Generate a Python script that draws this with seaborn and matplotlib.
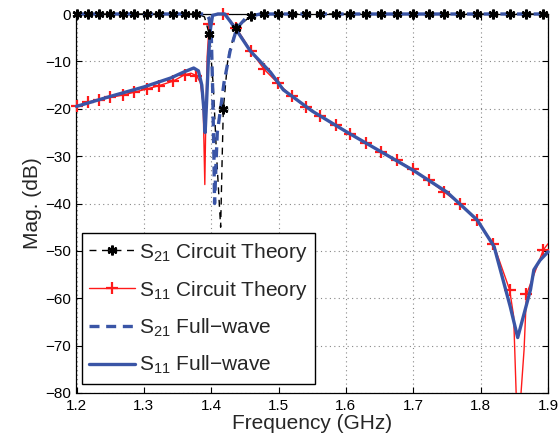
import matplotlib
matplotlib.use("Agg")
import matplotlib.pyplot as plt
from matplotlib.lines import Line2D
import seaborn as sns

# grille des marqueurs (théorie des circuits)
f_mk = [1.200, 1.217, 1.233, 1.250, 1.269, 1.286, 1.305, 1.323, 1.343, 1.361,
        1.378, 1.397, 1.418, 1.437, 1.459, 1.478, 1.499, 1.520, 1.541, 1.562,
        1.585, 1.606, 1.630, 1.652, 1.676, 1.699, 1.723, 1.745, 1.769, 1.794,
        1.819, 1.843, 1.868, 1.893]
s21_mk = [0.0, 0.0, 0.0, 0.0, 0.0, 0.0, 0.0, 0.0, 0.0, 0.0,
          0.0, -4.2, -20.0, -3.0, -0.4, 0.0, 0.0, 0.0, 0.0, 0.0,
          0.0, 0.0, 0.0, 0.0, 0.0, 0.0, 0.0, 0.0, 0.0, 0.0,
          0.0, 0.0, 0.0, 0.0]
s11_mk = [-19.5, -18.6, -18.1, -17.6, -17.1, -16.5, -15.8, -15.1, -14.2, -12.8,
          -13.0, -2.1, 0.0, -2.9, -7.8, -11.6, -14.6, -17.4, -19.7, -21.6,
          -23.5, -25.3, -27.2, -29.1, -30.9, -32.8, -35.1, -37.5, -40.0, -43.5,
          -48.5, -58.2, -59.2, -49.8]

# S21 théorie des circuits (trait)
f_s21_ct = [1.200, 1.380, 1.390, 1.397, 1.403, 1.408, 1.414, 1.416, 1.418,
            1.425, 1.437, 1.459, 1.480, 1.900]
s21_ct = [0.0, 0.0, -0.6, -4.2, -15.0, -30.0, -45.0, -32.0, -20.0,
          -9.0, -3.0, -0.4, 0.0, 0.0]

# S11 théorie des circuits (trait)
f_s11_ct = [1.200, 1.217, 1.233, 1.250, 1.269, 1.286, 1.305, 1.323, 1.343,
            1.361, 1.370, 1.378, 1.384, 1.388, 1.3905, 1.392, 1.394, 1.397,
            1.402, 1.410, 1.418, 1.428, 1.437, 1.459, 1.478, 1.499, 1.520,
            1.541, 1.562, 1.585, 1.606, 1.630, 1.652, 1.676, 1.699, 1.723,
            1.745, 1.769, 1.794, 1.819, 1.843, 1.849, 1.855, 1.8645, 1.868,
            1.893, 1.900]
s11_ct = [-19.5, -18.6, -18.1, -17.6, -17.1, -16.5, -15.8, -15.1, -14.2,
          -12.8, -12.5, -13.0, -14.5, -19.0, -36.0, -22.0, -9.0, -2.1,
          -0.3, 0.0, 0.0, -1.3, -2.9, -7.8, -11.6, -14.6, -17.4,
          -19.7, -21.6, -23.5, -25.3, -27.2, -29.1, -30.9, -32.8, -35.1,
          -37.5, -40.0, -43.5, -48.5, -58.2, -63.8, -90.0, -70.8, -59.2,
          -49.8, -48.5]

# S21 full-wave
f_s21_fw = [1.200, 1.393, 1.397, 1.400, 1.402, 1.404, 1.405, 1.407, 1.409,
            1.414, 1.419, 1.428, 1.438, 1.453, 1.473, 1.900]
s21_fw = [0.0, 0.0, -1.0, -4.0, -15.0, -30.0, -40.0, -32.0, -25.0,
          -20.0, -14.5, -7.8, -3.0, -0.6, 0.0, 0.0]

# S11 full-wave
f_s11_fw = [1.200, 1.250, 1.300, 1.340, 1.360, 1.374, 1.381, 1.386, 1.389,
            1.391, 1.393, 1.396, 1.399, 1.402, 1.410, 1.420, 1.428, 1.437,
            1.458, 1.488, 1.507, 1.550, 1.600, 1.650, 1.700, 1.750, 1.795,
            1.820, 1.844, 1.855, 1.865, 1.874, 1.879, 1.888, 1.900]
s11_fw = [-19.5, -17.4, -15.4, -13.5, -12.2, -11.4, -12.0, -15.0, -20.0,
          -25.0, -19.0, -9.0, -3.0, -0.3, 0.0, 0.0, -1.5, -3.3,
          -7.8, -12.3, -16.0, -20.5, -24.8, -28.9, -33.0, -37.6, -43.5,
          -49.1, -61.8, -68.3, -63.0, -58.2, -54.0, -52.0, -50.2]

xticks = [1.2, 1.3, 1.4, 1.5, 1.6, 1.7, 1.8, 1.9]
yticks = [0, -10, -20, -30, -40, -50, -60, -70, -80]

sns.set_theme(style="white")
plt.rcParams['font.family'] = ['Liberation Sans', 'DejaVu Sans']
plt.rcParams['mathtext.default'] = 'regular'

bleu = '#3A55A6'
rouge = '#FF1A1A'
tirets_noirs = (0, (5, 4))
tirets_bleus = (0, (3, 2))

fig = plt.figure(figsize=(5.6, 4.42), dpi=100)
ax = fig.add_axes([76.5 / 560, 1 - 393 / 442, (548 - 76.5) / 560, (393 - 14) / 442])

# traits (au-dessus du cadre, comme sous MATLAB)
sns.lineplot(x=f_s21_ct, y=s21_ct, ax=ax, color='black', lw=1.0, sort=False,
             estimator=None, linestyle=tirets_noirs, zorder=3, clip_on=False)
sns.lineplot(x=f_s11_ct, y=s11_ct, ax=ax, color=rouge, lw=1.0, sort=False,
             estimator=None, zorder=3)
sns.lineplot(x=f_s21_fw, y=s21_fw, ax=ax, color=bleu, lw=2.4, sort=False,
             estimator=None, linestyle=tirets_bleus, zorder=3, clip_on=False)
sns.lineplot(x=f_s11_fw, y=s11_fw, ax=ax, color=bleu, lw=2.4, sort=False,
             estimator=None, zorder=3, clip_on=False)

# marqueurs
ax.plot(f_mk, s21_mk, ls='none', marker=(6, 2, 0), ms=7, mew=1.8, color='black',
        zorder=3.2, clip_on=False)
ax.plot(f_mk, s11_mk, ls='none', marker='+', ms=8, mew=1.6, color=rouge,
        zorder=2.9, clip_on=False)

ax.set_xlim(1.2, 1.9)
ax.set_ylim(-80, 0)
ax.set_xticks(xticks)
ax.set_yticks(yticks)
ax.set_xticklabels([f'{t:.1f}' for t in xticks])
ax.tick_params(direction='in', length=4, width=0.8, labelsize=11, colors='black',
               top=True, right=True, bottom=True, left=True, pad=4)
ax.grid(True, ls=(0, (1, 3)), color='#888888', lw=0.8)
for s in ax.spines.values():
    s.set_color('black')
    s.set_linewidth(0.9)
ax.set_xlabel('Frequency (GHz)', fontsize=15, labelpad=1)
ax.set_ylabel('Mag. (dB)', fontsize=15, labelpad=2)

handles = [
    Line2D([], [], color='black', lw=1.0, ls=tirets_noirs, marker=(6, 2, 0), ms=7, mew=1.8),
    Line2D([], [], color=rouge, lw=1.0, marker='+', ms=8, mew=1.6),
    Line2D([], [], color=bleu, lw=2.4, ls=tirets_bleus),
    Line2D([], [], color=bleu, lw=2.4),
]
labels = ['S$_{21}$ Circuit Theory', 'S$_{11}$ Circuit Theory',
          'S$_{21}$ Full\u2212wave', 'S$_{11}$ Full\u2212wave']
leg = ax.legend(handles, labels, loc='lower left', bbox_to_anchor=(0.012, 0.025),
                fontsize=15, frameon=True, fancybox=False, handlelength=2.2,
                handletextpad=0.2, labelspacing=0.72, borderpad=0.35,
                borderaxespad=0)
leg.get_frame().set_edgecolor('black')
leg.get_frame().set_linewidth(1.0)
leg.get_frame().set_alpha(1)
leg.set_zorder(5)

fig.savefig('out.png', dpi=100)
